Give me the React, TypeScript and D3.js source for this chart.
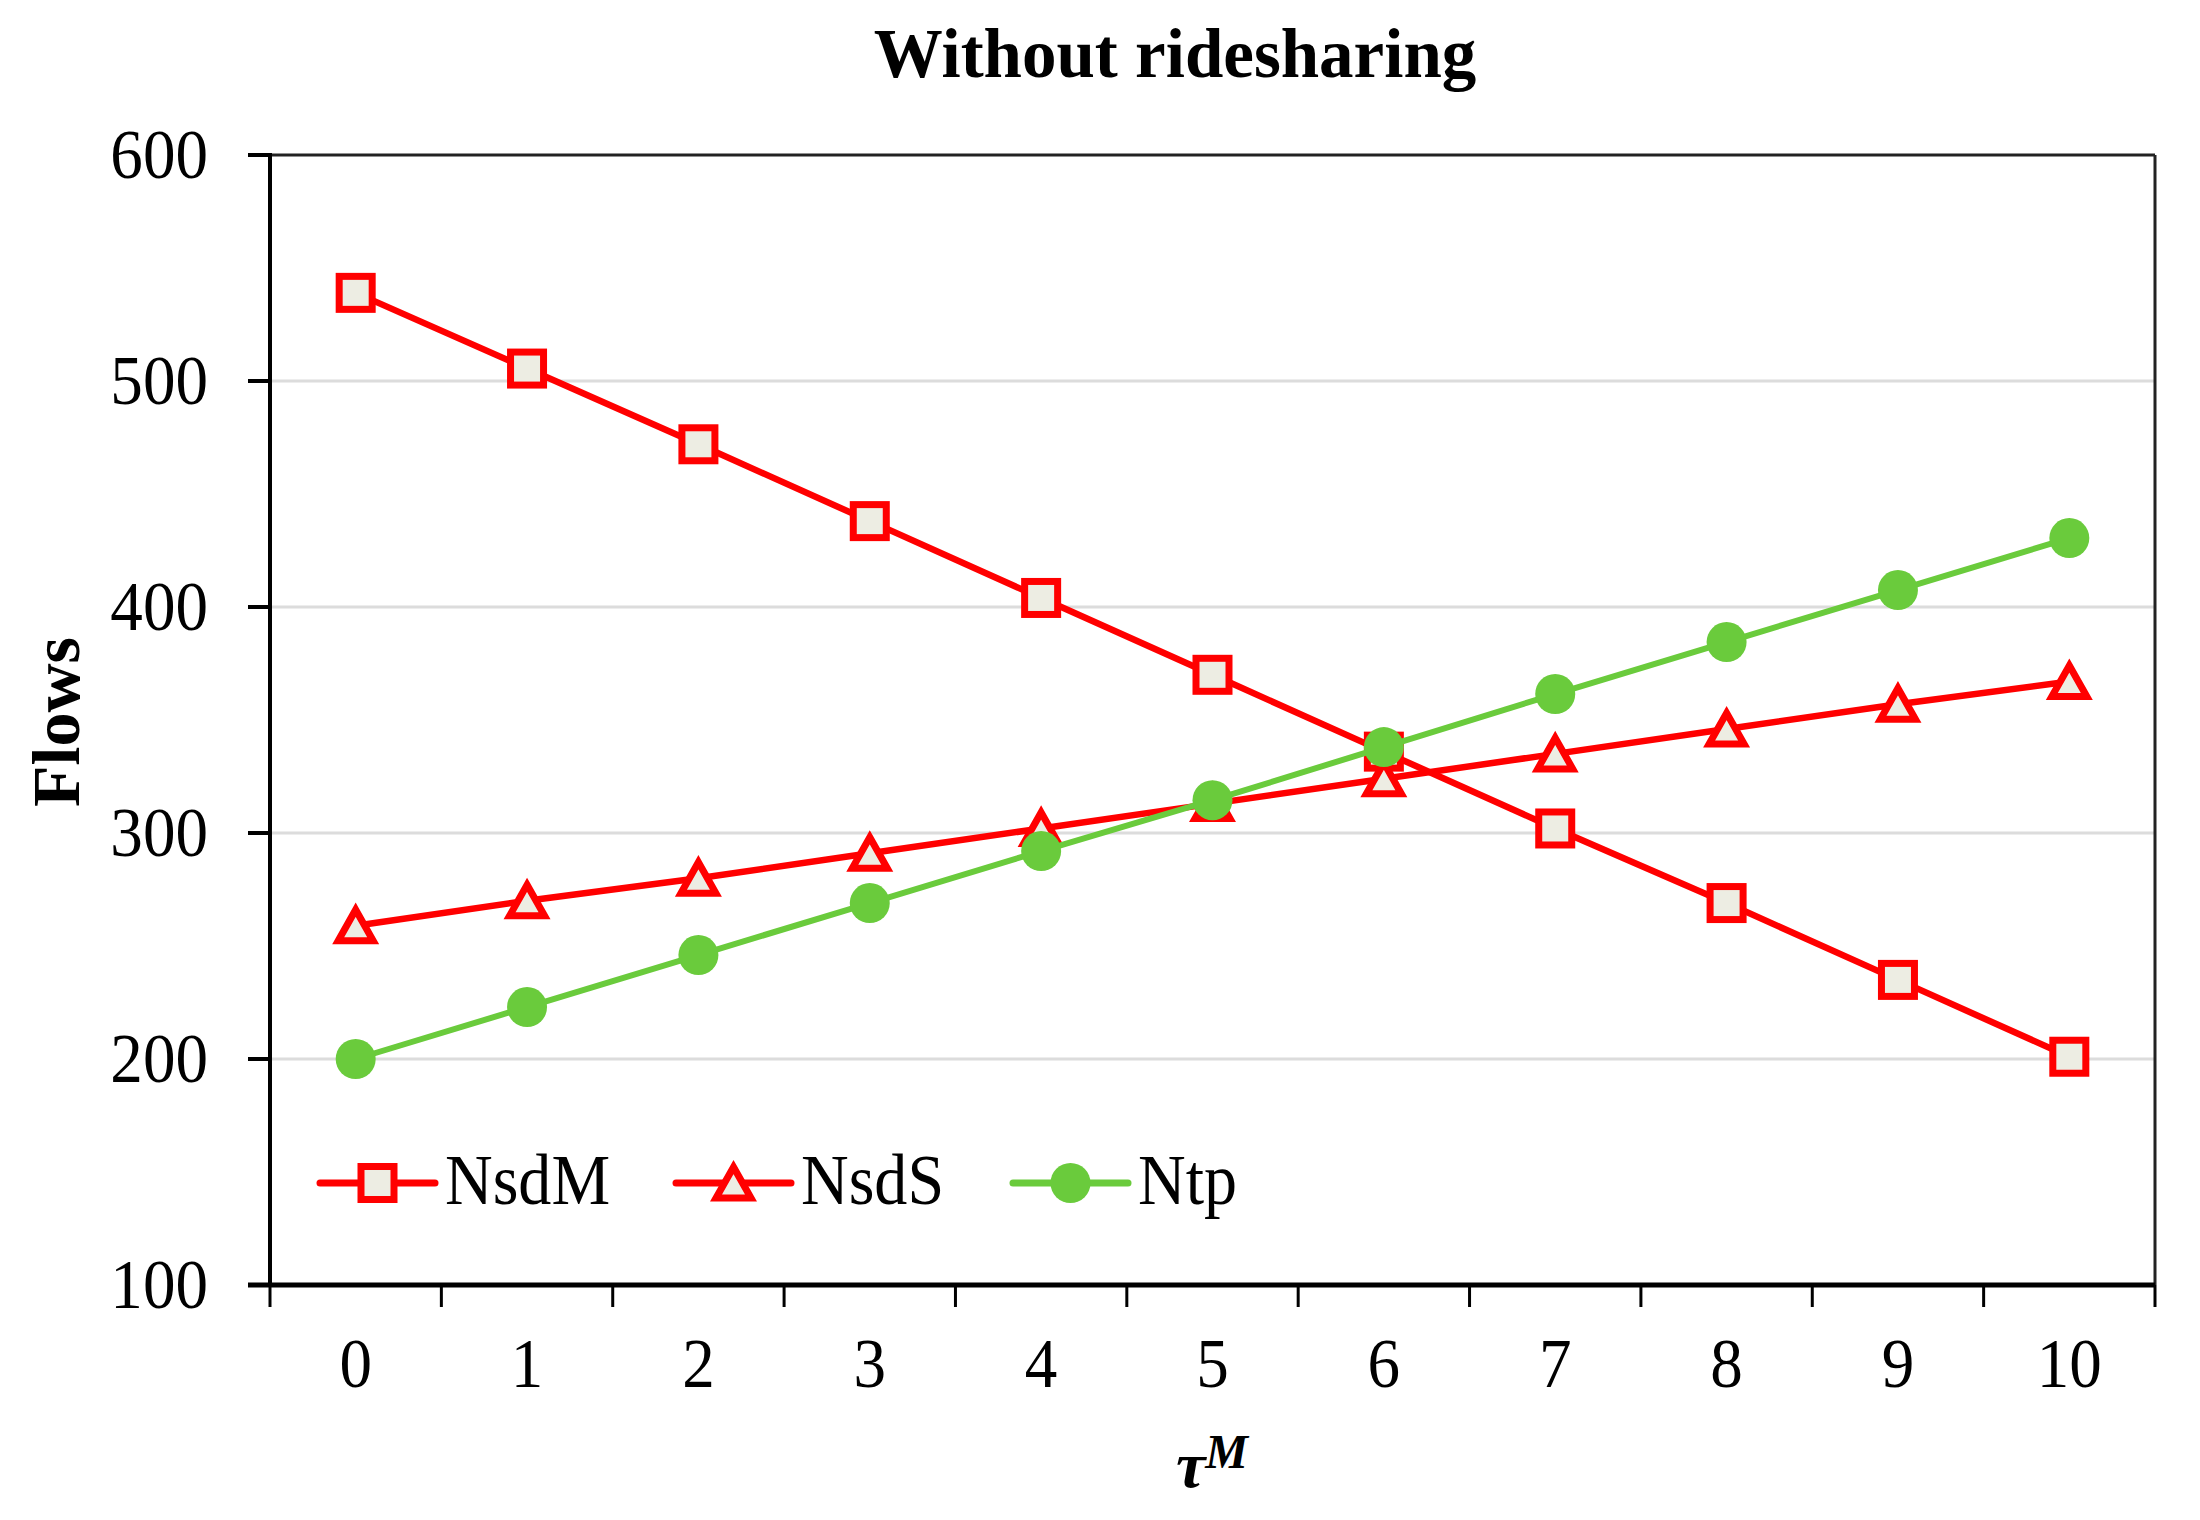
import React from 'react';
import * as d3 from 'd3';

const categories = ['0', '1', '2', '3', '4', '5', '6', '7', '8', '9', '10'];
const nsdM = [539, 505.5, 472, 438, 404, 370, 336, 302, 269, 235, 201];
const nsdS = [259, 270, 280, 291, 302, 313, 324, 335, 346, 357, 367];
const ntp = [200, 223, 246, 269, 292, 314.5, 338, 361.5, 384.5, 407.5, 430.5];
const yTicks = [100, 200, 300, 400, 500, 600];
const gridTicks = [200, 300, 400, 500];

const W = 2200, H = 1520;
const left = 270, right = 2155, top = 155, bottom = 1285;
const RED = '#ff0000';
const GREEN = '#6acb3c';
const FILL = '#edede3';
const FONT = '"Liberation Serif", "Times New Roman", serif';
const SQ = 0.93; // the reference glyphs are a little narrower than Times

const x = d3.scaleBand<string>().domain(categories).range([left, right]).padding(0);
const y = d3.scaleLinear().domain([100, 600]).range([bottom, top]);
const cx = (c: string) => (x(c) as number) + x.bandwidth() / 2;

const line = d3.line<number>()
  .x((_, i) => cx(categories[i]))
  .y(d => y(d));

// condensed text
const CText = ({ tx, ty, children, ...rest }: any) => (
  <text transform={`translate(${tx},${ty}) scale(${SQ},1)`} {...rest}>{children}</text>
);

const Square = ({ px, py }: { px: number; py: number }) => (
  <rect x={px - 16.5} y={py - 16.5} width={33} height={33} fill={FILL} stroke={RED} strokeWidth={7} />
);

const Triangle = ({ px, py }: { px: number; py: number }) => (
  <path
    d={`M${px},${py - 16} L${px + 17.5},${py + 15} L${px - 17.5},${py + 15} Z`}
    fill={FILL} stroke={RED} strokeWidth={7} strokeLinejoin="miter"
  />
);

const Dot = ({ px, py }: { px: number; py: number }) => (
  <circle cx={px} cy={py} r={20} fill={GREEN} />
);

const legend = [
  { label: 'NsdM', color: RED, marker: Square, x0: 320 },
  { label: 'NsdS', color: RED, marker: Triangle, x0: 676 },
  { label: 'Ntp', color: GREEN, marker: Dot, x0: 1013 },
];

export default function App() {
  const boundaries = [...categories.map(c => x(c) as number), right];
  return (
    <svg width={W} height={H} style={{ position: 'absolute', left: 0, top: 0, background: '#fff' }} fontFamily={FONT}>
      {/* title */}
      <text x={1175} y={77} textAnchor="middle" fontSize={69} fontWeight="bold">Without  ridesharing</text>

      {/* gridlines */}
      {gridTicks.map(t => (
        <line key={t} x1={left} x2={right} y1={y(t)} y2={y(t)} stroke="#dcdcdc" strokeWidth={3} />
      ))}

      {/* frame */}
      <line x1={left} x2={right} y1={top} y2={top} stroke="#222" strokeWidth={3} />
      <line x1={right} x2={right} y1={top} y2={bottom} stroke="#222" strokeWidth={3} />

      {/* y axis */}
      <line x1={left} x2={left} y1={top - 2} y2={bottom + 2} stroke="#000" strokeWidth={4} />
      {yTicks.map(t => (
        <g key={t}>
          <line x1={left - 22} x2={left} y1={y(t)} y2={y(t)} stroke="#000" strokeWidth={4} />
          <CText tx={208} ty={y(t) + 23} textAnchor="end" fontSize={70}>{t}</CText>
        </g>
      ))}
      <text transform={`translate(79,722) rotate(-90)`} textAnchor="middle" fontSize={68} fontWeight="bold">Flows</text>

      {/* x axis */}
      <line x1={left - 22} x2={right} y1={bottom} y2={bottom} stroke="#000" strokeWidth={5} />
      {boundaries.map((b, i) => (
        <line key={i} x1={b} x2={b} y1={bottom} y2={bottom + 22} stroke="#000" strokeWidth={3} />
      ))}
      {categories.map(c => (
        <CText key={c} tx={cx(c)} ty={1387} textAnchor="middle" fontSize={70}>{c}</CText>
      ))}
      <text x={1176} y={1487} fontSize={66} fontWeight="bold" fontStyle="italic">
        τ<tspan fontSize={48} dy={-19}>M</tspan>
      </text>

      {/* series */}
      <path d={line(nsdM) ?? ''} fill="none" stroke={RED} strokeWidth={6.5} />
      {nsdM.map((v, i) => <Square key={i} px={cx(categories[i])} py={y(v)} />)}
      <path d={line(nsdS) ?? ''} fill="none" stroke={RED} strokeWidth={6.5} />
      {nsdS.map((v, i) => <Triangle key={i} px={cx(categories[i])} py={y(v)} />)}
      <path d={line(ntp) ?? ''} fill="none" stroke={GREEN} strokeWidth={6} />
      {ntp.map((v, i) => <Dot key={i} px={cx(categories[i])} py={y(v)} />)}

      {/* legend */}
      {legend.map(l => {
        const M = l.marker;
        const ly = 1183;
        return (
          <g key={l.label}>
            <line x1={l.x0} x2={l.x0 + 115} y1={ly} y2={ly} stroke={l.color} strokeWidth={7} strokeLinecap="round" />
            <M px={l.x0 + 57.5} py={ly} />
            <CText tx={l.x0 + 125} ty={1204} fontSize={71}>{l.label}</CText>
          </g>
        );
      })}
    </svg>
  );
}
